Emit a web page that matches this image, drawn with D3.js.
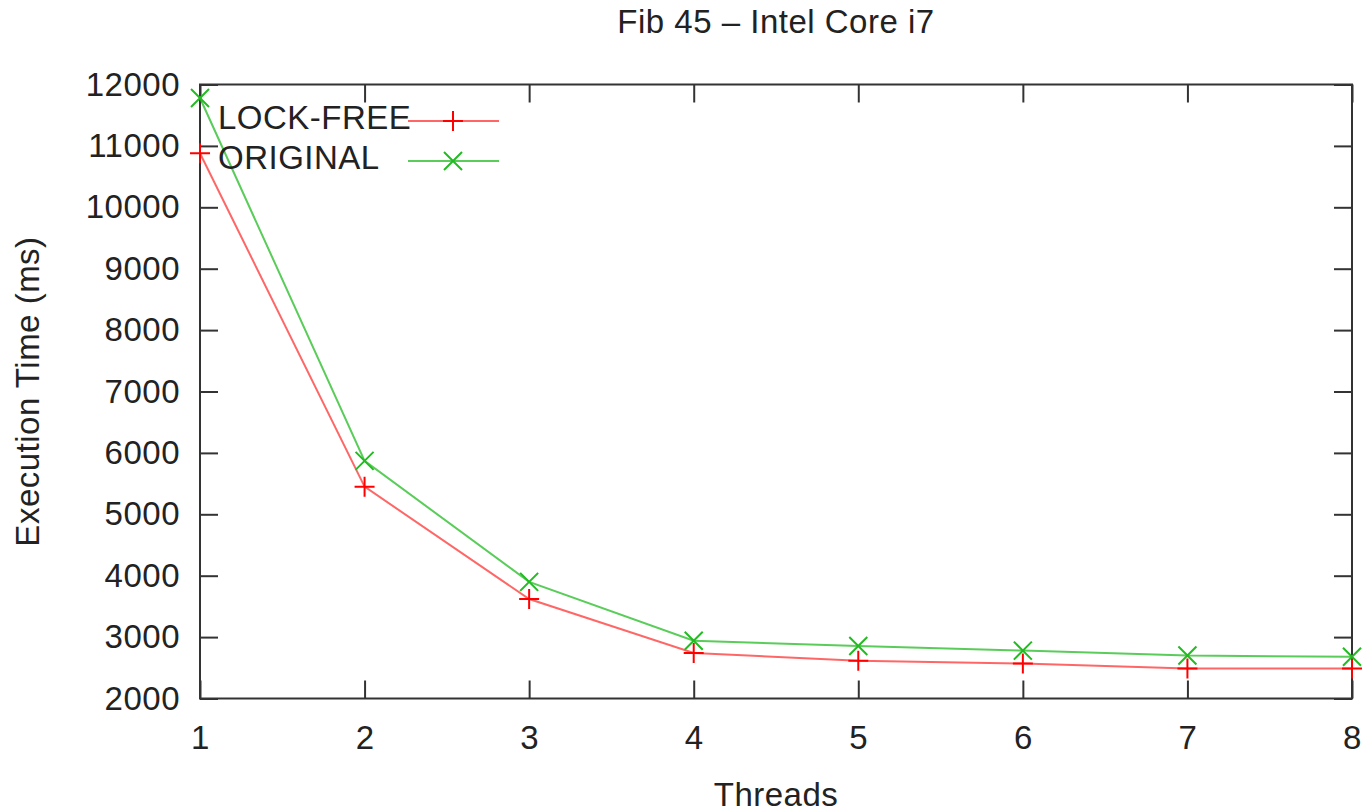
<!DOCTYPE html>
<html>
<head>
<meta charset="utf-8">
<script src="https://cdn.jsdelivr.net/npm/d3@7"></script>
<style>
  body { margin: 0; background: #fff; }
  text { font-family: "Liberation Sans", Arial, sans-serif; fill: #222; letter-spacing: 0.5px; }
</style>
</head>
<body>
<div id="chart"></div>
<script>
// values
const threads = [1, 2, 3, 4, 5, 6, 7, 8];
const lockFree = [10880, 5450, 3620, 2740, 2615, 2570, 2490, 2490];
const original = [11780, 5870, 3900, 2940, 2855, 2780, 2700, 2680];
const yTicks = [2000, 3000, 4000, 5000, 6000, 7000, 8000, 9000, 10000, 11000, 12000];

const W = 1372, H = 812;
const margin = {top: 84.5, right: 20, bottom: 113.5, left: 200};
const width = 1352 - margin.left;
const height = 698.5 - margin.top;
const fontSize = 33;

const svg = d3.select("#chart").append("svg")
    .attr("width", W)
    .attr("height", H);

const g = svg.append("g")
    .attr("transform", `translate(${margin.left},${margin.top})`);

const x = d3.scaleLinear().domain([1, 8]).range([0, width]);
const y = d3.scaleLinear().domain([2000, 12000]).range([height, 0]);

// axes, ticks pointing inward like gnuplot
const styleAxis = sel => {
    sel.select(".domain").remove();
    sel.selectAll(".tick line").attr("stroke", "#333").attr("stroke-width", 2);
    sel.selectAll(".tick text").style("font-size", fontSize + "px").attr("fill", "#222");
};

g.append("g")
    .attr("transform", `translate(0,${height})`)
    .call(d3.axisBottom(x).tickValues(threads).tickSize(-18).tickPadding(27).tickFormat(d3.format("d")))
    .call(styleAxis);
g.append("g")
    .call(d3.axisTop(x).tickValues(threads).tickSize(-18).tickFormat(""))
    .call(styleAxis);
g.append("g")
    .call(d3.axisLeft(y).tickValues(yTicks).tickSize(-18).tickPadding(20).tickFormat(d3.format("d")))
    .call(styleAxis);
g.append("g")
    .attr("transform", `translate(${width},0)`)
    .call(d3.axisRight(y).tickValues(yTicks).tickSize(-18).tickFormat(""))
    .call(styleAxis);

// frame
g.append("rect")
    .attr("width", width)
    .attr("height", height)
    .attr("fill", "none")
    .attr("stroke", "#333")
    .attr("stroke-width", 2);

const series = [
    {name: "LOCK-FREE", values: lockFree, color: "#ff0000", line: "rgba(255,0,0,0.6)", marker: "plus"},
    {name: "ORIGINAL", values: original, color: "#22bb22", line: "rgba(34,187,34,0.75)", marker: "cross"}
];

const markerPath = (type) => {
    if (type === "plus") return "M-10,0H10M0,-10V10";
    return "M-9,-9L9,9M-9,9L9,-9";
};

const line = d3.line()
    .x((d, i) => x(threads[i]))
    .y(d => y(d));

series.forEach(s => {
    g.append("path")
        .datum(s.values)
        .attr("fill", "none")
        .attr("stroke", s.line)
        .attr("stroke-width", 2)
        .attr("d", line);

    g.selectAll(null)
        .data(s.values)
        .enter()
        .append("path")
        .attr("transform", (d, i) => `translate(${x(threads[i])},${y(d)})`)
        .attr("d", markerPath(s.marker))
        .attr("stroke", s.color)
        .attr("stroke-width", 2)
        .attr("fill", "none");
});

// legend
const legend = svg.append("g");
series.forEach((s, i) => {
    const ly = 121 + i * 40;
    legend.append("text")
        .attr("x", 218)
        .attr("y", ly + 8)
        .style("font-size", fontSize + "px")
        .text(s.name);
    legend.append("line")
        .attr("x1", 408).attr("x2", 499)
        .attr("y1", ly).attr("y2", ly)
        .attr("stroke", s.line)
        .attr("stroke-width", 2);
    legend.append("path")
        .attr("transform", `translate(453,${ly})`)
        .attr("d", markerPath(s.marker))
        .attr("stroke", s.color)
        .attr("stroke-width", 2);
});

// titles
svg.append("text")
    .attr("x", margin.left + width / 2)
    .attr("y", 33)
    .attr("text-anchor", "middle")
    .style("font-size", fontSize + "px")
    .text("Fib 45 – Intel Core i7");

svg.append("text")
    .attr("x", margin.left + width / 2)
    .attr("y", 806)
    .attr("text-anchor", "middle")
    .style("font-size", fontSize + "px")
    .text("Threads");

svg.append("text")
    .attr("transform", `translate(38.5,${margin.top + height / 2}) rotate(-90)`)
    .attr("text-anchor", "middle")
    .style("font-size", fontSize + "px")
    .text("Execution Time (ms)");
</script>
</body>
</html>
